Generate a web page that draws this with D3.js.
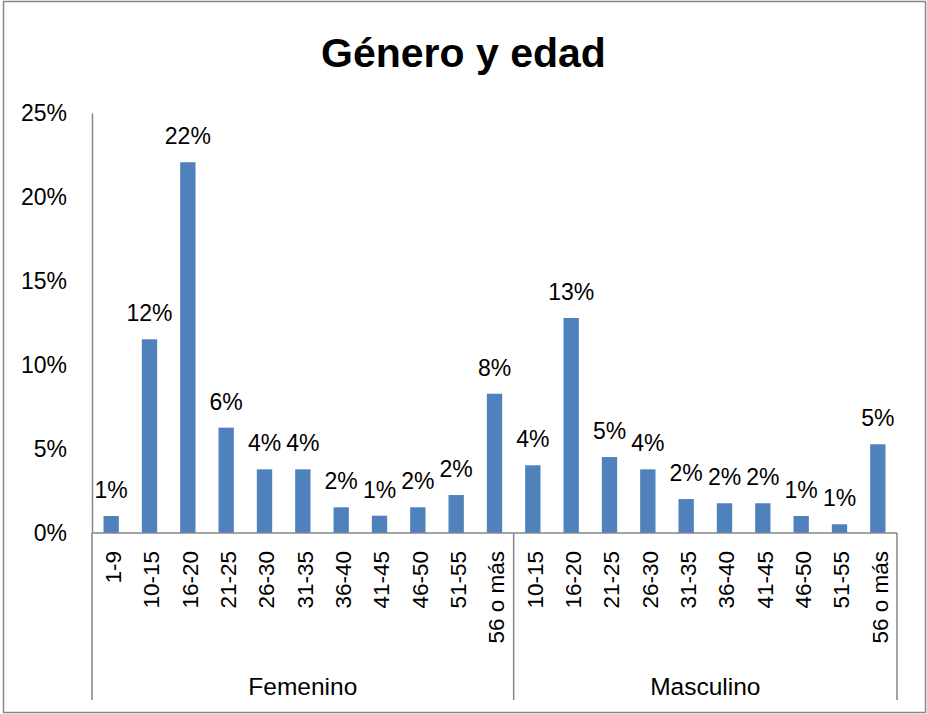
<!DOCTYPE html>
<html>
<head>
<meta charset="utf-8">
<script src="https://cdn.jsdelivr.net/npm/d3@7"></script>
<style>
  body { margin: 0; background: #fff; }
  text { font-family: 'Liberation Sans', Arial, sans-serif; fill: #000; }
</style>
</head>
<body>
<div id="chart"></div>
<script>
// Chart data
const title = 'Género y edad'
const groups = ['Femenino', 'Masculino']
const femAges = ['1-9', '10-15', '16-20', '21-25', '26-30', '31-35', '36-40', '41-45', '46-50', '51-55', '56 o más']
const femValues = [0.0101, 0.1153, 0.2207, 0.0627, 0.0379, 0.0379, 0.0153, 0.0103, 0.0153, 0.0226, 0.0829]
const mascAges = ['10-15', '16-20', '21-25', '26-30', '31-35', '36-40', '41-45', '46-50', '51-55', '56 o más']
const mascValues = [0.0403, 0.128, 0.0452, 0.0379, 0.0202, 0.0177, 0.0177, 0.0101, 0.0052, 0.0528]
const yTicks = [0, 0.05, 0.10, 0.15, 0.20, 0.25]

// Canvas
const width = 927,
  height = 714,
  plotLeft = 92,
  plotRight = 897,
  plotTop = 113,
  plotBottom = 533,
  catBottom = 700

const axisColor = '#868686'
const barColor = '#4F81BD'

// flat rows built from the arrays above
let rows = []
femAges.forEach((a, i) => rows.push({ id: 'F|' + a, group: groups[0], age: a, value: femValues[i] }))
mascAges.forEach((a, i) => rows.push({ id: 'M|' + a, group: groups[1], age: a, value: mascValues[i] }))

let svg = d3.select('#chart')
  .append('svg')
  .attr('width', width)
  .attr('height', height)

// outer chart frame
svg.append('rect')
  .attr('x', 3.5).attr('y', 1.5)
  .attr('width', 922).attr('height', 711)
  .attr('fill', 'none')
  .attr('stroke', axisColor)
  .attr('stroke-width', 1.5)

const slot = d3.scaleBand()
  .domain(rows.map(d => d.id))
  .range([plotLeft, plotRight])

const xScale = d3.scaleBand()
  .domain(rows.map(d => d.id))
  .range([plotLeft, plotRight])
  .paddingInner(0.6)
  .paddingOuter(0.3)

const yScale = d3.scaleLinear()
  .domain([0, 0.25])
  .range([plotBottom, plotTop])

// title
svg.append('text')
  .attr('x', width / 2)
  .attr('y', 67)
  .attr('text-anchor', 'middle')
  .style('font-size', '41px')
  .style('font-weight', 'bold')
  .text(title)

// y axis
const yAxis = d3.axisLeft(yScale)
  .tickValues(yTicks)
  .tickFormat(d3.format('.0%'))
  .tickSize(0)
  .tickPadding(25)

const gy = svg.append('g')
  .attr('transform', `translate(${plotLeft},0)`)
  .call(yAxis)
gy.select('.domain').attr('stroke', axisColor).attr('stroke-width', 1.5)
gy.selectAll('text')
  .style('font-size', '23px')
  .style('font-family', "'Liberation Sans', Arial, sans-serif")
  .attr('fill', '#000')

// bars
svg.selectAll('rect.bar')
  .data(rows)
  .enter()
  .append('rect')
  .attr('class', 'bar')
  .attr('x', d => xScale(d.id))
  .attr('y', d => yScale(d.value))
  .attr('width', xScale.bandwidth())
  .attr('height', d => plotBottom - yScale(d.value))
  .attr('fill', barColor)

// value labels
svg.selectAll('text.val')
  .data(rows)
  .enter()
  .append('text')
  .attr('class', 'val')
  .attr('x', d => xScale(d.id) + xScale.bandwidth() / 2)
  .attr('y', d => yScale(d.value) - 18)
  .attr('text-anchor', 'middle')
  .style('font-size', '23px')
  .text(d => d3.format('.0%')(d.value))

// category axis line and group dividers
svg.append('line')
  .attr('x1', plotLeft).attr('x2', plotRight)
  .attr('y1', plotBottom).attr('y2', plotBottom)
  .attr('stroke', axisColor).attr('stroke-width', 1.5)

let groupInfo = groups.map(g => {
  const ids = rows.filter(d => d.group === g).map(d => d.id)
  const x0 = slot(ids[0])
  const x1 = slot(ids[ids.length - 1]) + slot.bandwidth()
  return { name: g, x0: x0, x1: x1 }
})

let edges = [groupInfo[0].x0].concat(groupInfo.map(g => g.x1))
svg.selectAll('line.div')
  .data(edges)
  .enter()
  .append('line')
  .attr('class', 'div')
  .attr('x1', d => d).attr('x2', d => d)
  .attr('y1', plotBottom).attr('y2', catBottom)
  .attr('stroke', axisColor).attr('stroke-width', 1.5)

// rotated age labels
svg.selectAll('text.age')
  .data(rows)
  .enter()
  .append('text')
  .attr('class', 'age')
  .attr('transform', d => `translate(${xScale(d.id) + xScale.bandwidth() / 2 + 2},551) rotate(-90)`)
  .attr('dy', '0.35em')
  .attr('text-anchor', 'end')
  .style('font-size', '22.5px')
  .text(d => d.age)

// group labels
svg.selectAll('text.grp')
  .data(groupInfo)
  .enter()
  .append('text')
  .attr('class', 'grp')
  .attr('x', d => (d.x0 + d.x1) / 2)
  .attr('y', 695)
  .attr('text-anchor', 'middle')
  .style('font-size', '24.5px')
  .text(d => d.name)
</script>
</body>
</html>
